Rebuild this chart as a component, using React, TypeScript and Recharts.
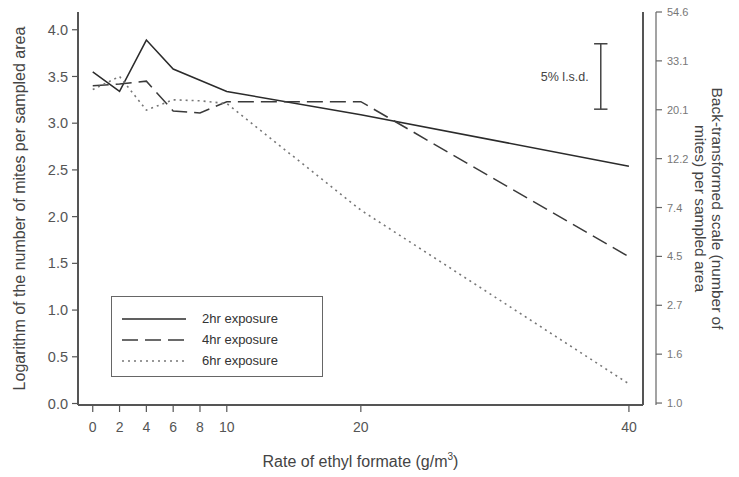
import React from 'react';
import {
  LineChart,
  Line,
  XAxis,
  YAxis,
  Legend,
  ReferenceLine,
} from 'recharts';

// ethyl formate rate (g/m3)
const rates = [0, 2, 4, 6, 8, 10, 20, 40];
// log number of mites per sampled area
const twoHr = [3.55, 3.34, 3.89, 3.58, 3.46, 3.34, 3.09, 2.54];
const fourHr = [3.4, 3.42, 3.45, 3.13, 3.11, 3.23, 3.23, 1.57];
const sixHr = [3.36, 3.5, 3.14, 3.25, 3.24, 3.21, 2.07, 0.21];

const xTicks = [0, 2, 4, 6, 8, 10, 20, 40];
const logTicks = [0, 0.5, 1, 1.5, 2, 2.5, 3, 3.5, 4];
const backLabels = ['1.0', '1.6', '2.7', '4.5', '7.4', '12.2', '20.1', '33.1', '54.6'];

// 5% least significant difference bar
const lsdX = 37.9;
const lsdLow = 3.15;
const lsdHigh = 3.85;
const lsdCap = 0.5;

const data = rates.map((r, i) => ({
  rate: r,
  two: twoHr[i],
  four: fourHr[i],
  six: sixHr[i],
}));

const series = [
  { key: 'two', name: '2hr exposure', color: '#2b2b2b', dash: undefined as string | undefined, width: 1.5 },
  { key: 'four', name: '4hr exposure', color: '#3a3a3a', dash: '16 7', width: 1.5 },
  { key: 'six', name: '6hr exposure', color: '#777', dash: '2 4', width: 1.6 },
];

const axisColor = '#555';
const textColor = '#444';

const LegendBox = () => (
  <div
    style={{
      border: '1px solid #666',
      width: 210,
      padding: '11px 0 5px 0',
      background: '#fff',
      fontSize: 13,
      color: '#333',
    }}
  >
    {series.map((s) => (
      <div key={s.key} style={{ display: 'flex', alignItems: 'center', height: 21 }}>
        <svg width={90} height={10}>
          <line x1={10} x2={74} y1={5} y2={5} stroke={s.color} strokeWidth={s.width} strokeDasharray={s.dash} />
        </svg>
        <span>{s.name}</span>
      </div>
    ))}
  </div>
);

// recharts hands the tick x already shifted by tickSize + tickMargin (6 + 2)
const RightTick = (props: any) => {
  const { x, y, payload } = props;
  const idx = logTicks.indexOf(payload.value);
  const ax = x - 8;
  return (
    <g>
      <line x1={ax} x2={ax + 6} y1={y} y2={y} stroke="#666" strokeWidth={1.2} />
      <text x={ax + 11} y={y + 4} fontSize={11} fill="#777">
        {backLabels[idx]}
      </text>
    </g>
  );
};

const RightTitle = (props: any) => {
  const vb = props.viewBox || {};
  const cy = vb.y + vb.height / 2;
  const cx = vb.x + vb.width;
  return (
    <g>
      <text
        transform={`translate(${cx - 27},${cy}) rotate(90)`}
        textAnchor="middle"
        fontSize={15.5}
        fill={textColor}
      >
        Back-transformed scale (number of
      </text>
      <text
        transform={`translate(${cx - 44},${cy}) rotate(90)`}
        textAnchor="middle"
        fontSize={15.5}
        fill={textColor}
      >
        mites) per sampled area
      </text>
    </g>
  );
};

const LeftTitle = (props: any) => {
  const vb = props.viewBox || {};
  const cy = vb.y + vb.height / 2;
  return (
    <text transform={`translate(25,${cy}) rotate(-90)`} textAnchor="middle" fontSize={16} fill={textColor}>
      Logarithm of the number of mites per sampled area
    </text>
  );
};

const BottomTitle = (props: any) => {
  const vb = props.viewBox || {};
  const cx = vb.x + vb.width / 2;
  return (
    <text x={cx} y={vb.y + 62} textAnchor="middle" fontSize={16} fill={textColor}>
      <tspan>Rate of ethyl formate (g/m</tspan>
      <tspan dy={-7} fontSize={10}>3</tspan>
      <tspan dy={7}>)</tspan>
    </text>
  );
};

export default function App() {
  return (
    <div style={{ position: 'absolute', left: 0, top: 0, fontFamily: '"Liberation Sans", Arial, sans-serif' }}>
      <LineChart width={739} height={477} data={data} margin={{ top: 12, right: 0, left: 18, bottom: 42 }}>
        <XAxis
          dataKey="rate"
          type="number"
          domain={[-1.1, 41.05]}
          ticks={xTicks}
          interval={0}
          allowDataOverflow
          height={30}
          tickSize={7}
          tickLine={{ stroke: axisColor, strokeWidth: 1.2 }}
          axisLine={{ stroke: axisColor, strokeWidth: 2 }}
          tick={{ fontSize: 14, fill: '#555', dy: 8 }}
          label={<BottomTitle />}
        />
        <XAxis
          xAxisId="top"
          orientation="top"
          dataKey="rate"
          type="number"
          domain={[-1.1, 41.05]}
          height={0}
          tick={false}
          tickLine={false}
          axisLine={{ stroke: axisColor, strokeWidth: 2 }}
        />
        <YAxis
          yAxisId="left"
          type="number"
          domain={[-0.016, 4.19]}
          ticks={logTicks}
          interval={0}
          allowDataOverflow
          width={60}
          tickSize={6}
          tickLine={{ stroke: axisColor, strokeWidth: 1.2 }}
          axisLine={{ stroke: axisColor, strokeWidth: 2 }}
          tickFormatter={(v: number) => v.toFixed(1)}
          tick={{ fontSize: 14.5, fill: '#555', dx: -2 }}
          label={<LeftTitle />}
        />
        <YAxis
          yAxisId="r1"
          orientation="right"
          type="number"
          domain={[0, 1]}
          width={13}
          tick={false}
          tickLine={false}
          axisLine={{ stroke: axisColor, strokeWidth: 2 }}
        />
        <YAxis
          yAxisId="r2"
          orientation="right"
          type="number"
          domain={[-0.02, 4]}
          ticks={logTicks}
          interval={0}
          allowDataOverflow
          width={83}
          tickLine={false}
          axisLine={{ stroke: '#666', strokeWidth: 1.2 }}
          tick={<RightTick />}
          label={<RightTitle />}
        />
        <Legend
          layout="horizontal"
          verticalAlign="middle"
          align="center"
          wrapperStyle={{ left: 111, top: 296, width: 'auto' }}
          content={() => <LegendBox />}
        />
        {series.map((s) => (
          <Line
            key={s.key}
            yAxisId="left"
            dataKey={s.key}
            name={s.name}
            type="linear"
            stroke={s.color}
            strokeWidth={s.width}
            strokeDasharray={s.dash}
            dot={false}
            activeDot={false}
            isAnimationActive={false}
          />
        ))}
        <ReferenceLine
          yAxisId="left"
          segment={[{ x: lsdX, y: lsdLow }, { x: lsdX, y: lsdHigh }]}
          stroke="#444"
          strokeWidth={1.5}
          label={{ value: '5% l.s.d.', position: 'left', offset: 12, fontSize: 12.5, fill: '#444' }}
        />
        <ReferenceLine
          yAxisId="left"
          segment={[{ x: lsdX - lsdCap, y: lsdHigh }, { x: lsdX + lsdCap, y: lsdHigh }]}
          stroke="#444"
          strokeWidth={1.5}
        />
        <ReferenceLine
          yAxisId="left"
          segment={[{ x: lsdX - lsdCap, y: lsdLow }, { x: lsdX + lsdCap, y: lsdLow }]}
          stroke="#444"
          strokeWidth={1.5}
        />
      </LineChart>
    </div>
  );
}
